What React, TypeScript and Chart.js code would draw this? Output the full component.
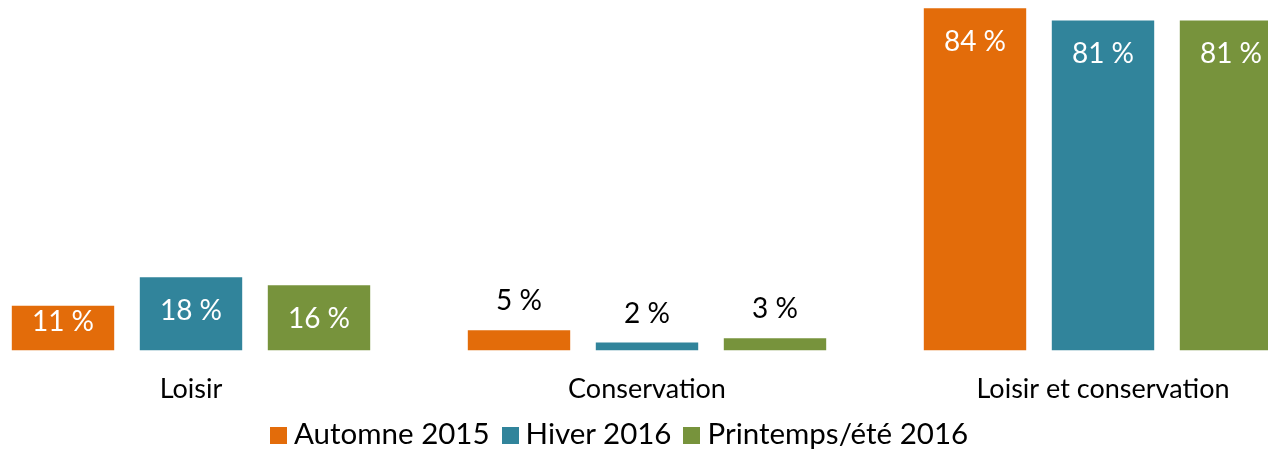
import React, { useEffect, useRef } from "react";
import { Chart, registerables } from "chart.js";

Chart.register(...registerables);

const categories = ["Loisir", "Conservation", "Loisir et conservation"];
const seriesNames = ["Automne 2015", "Hiver 2016", "Printemps/été 2016"];
const automne2015 = [11, 5, 84];
const hiver2016 = [18, 2, 81];
const printemps2016 = [16, 3, 81];
const colors = ["#E36C0A", "#31849B", "#77933C"];

const FONT = "Lato, 'Open Sans', sans-serif";
const FONT_SIZE = 27;
const LABEL_SIZE = 28;
const LEGEND_SIZE = 29.5;

const labelPlugin = {
  id: "valueLabels",
  afterDatasetsDraw(chart: any) {
    const ctx = chart.ctx;
    ctx.save();
    ctx.font = `${LABEL_SIZE}px ${FONT}`;
    ctx.textAlign = "center";
    ctx.textBaseline = "alphabetic";
    const cap = LABEL_SIZE * 0.72;
    chart.data.datasets.forEach((ds: any, di: number) => {
      const meta = chart.getDatasetMeta(di);
      meta.data.forEach((el: any, i: number) => {
        const v = ds.data[i];
        const text = `${v} %`;
        let center;
        if (v >= 10) {
          ctx.fillStyle = "#FFFFFF";
          center = Math.min(el.y + 33, el.base - 30);
        } else {
          ctx.fillStyle = "#000000";
          center = el.y - 30;
        }
        ctx.fillText(text, el.x, center + cap / 2);
      });
    });
    ctx.restore();
  },
};

export default function App() {
  const ref = useRef<HTMLCanvasElement>(null);
  useEffect(() => {
    if (!ref.current) return;
    const data = [automne2015, hiver2016, printemps2016];
    const chart = new Chart(ref.current, {
      type: "bar",
      data: {
        labels: categories,
        datasets: seriesNames.map((name, i) => ({
          label: name,
          data: data[i],
          backgroundColor: colors[i],
          borderWidth: 0,
          categoryPercentage: 0.8421,
          barPercentage: 0.8,
        })),
      },
      options: {
        responsive: false,
        animation: false,
        devicePixelRatio: 1,
        layout: { padding: 0 },
        plugins: {
          legend: { display: false },
          tooltip: { enabled: false },
        },
        scales: {
          x: {
            grid: { display: false, drawTicks: false },
            border: { display: false },
            ticks: {
              color: "#000000",
              font: { family: FONT, size: FONT_SIZE, lineHeight: 1.2 },
              padding: 22,
              maxRotation: 0,
              autoSkip: false,
            },
          },
          y: { display: false, min: 0, max: 86 },
        },
      },
      plugins: [labelPlugin],
    });
    return () => chart.destroy();
  }, []);

  const legendItems = seriesNames.map((n, i) => (
    <div key={n} style={{ display: "flex", alignItems: "baseline", marginRight: 12 }}>
      <span
        style={{
          display: "inline-block",
          width: 17,
          height: 17,
          background: colors[i],
          marginRight: 7,
        }}
      />
      <span>{n}</span>
    </div>
  ));

  return (
    <div
      style={{
        position: "absolute",
        left: 0,
        top: 0,
        width: 1268,
        height: 449,
        overflow: "hidden",
        background: "#FFFFFF",
      }}
    >
      <canvas
        ref={ref}
        width={1368}
        height={427}
        style={{ position: "absolute", left: -37, top: 0, width: 1368, height: 427 }}
      />
      <div
        style={{
          position: "absolute",
          left: 270,
          top: 415,
          display: "flex",
          fontFamily: FONT,
          fontSize: LEGEND_SIZE,
          lineHeight: "35px",
          color: "#000000",
          whiteSpace: "nowrap",
        }}
      >
        {legendItems}
      </div>
    </div>
  );
}
